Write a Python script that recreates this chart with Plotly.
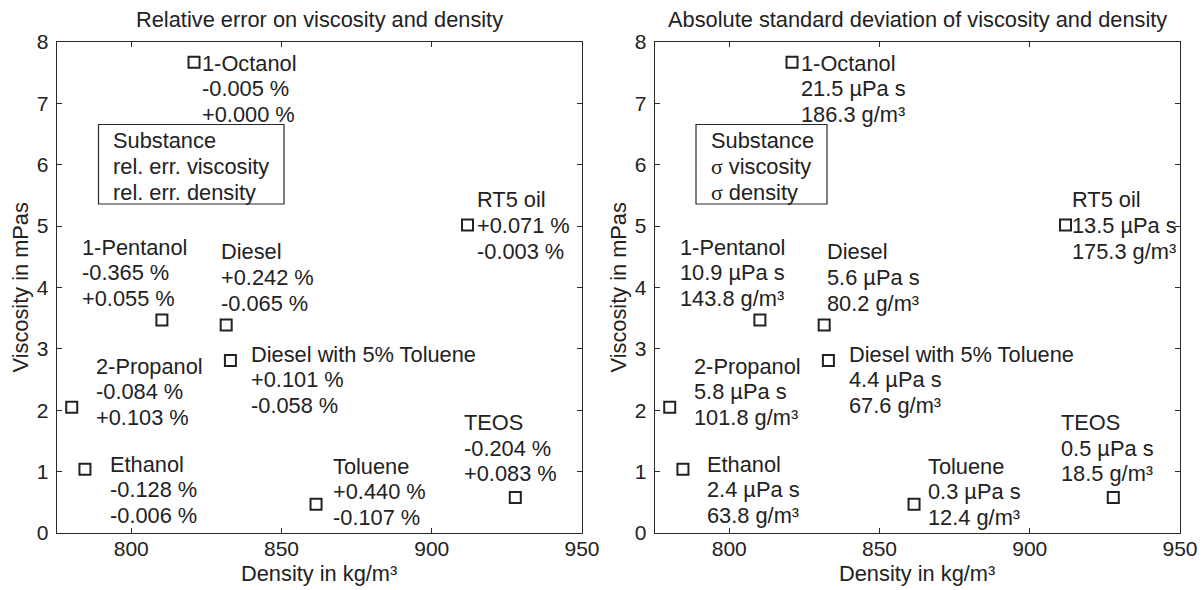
import plotly.graph_objects as go

# ---------------- data ----------------
substances = ["1-Octanol", "RT5 oil", "1-Pentanol", "Diesel", "Diesel with 5% Toluene",
              "2-Propanol", "Ethanol", "Toluene", "TEOS"]
density = [820.9, 911.9, 810.2, 831.6, 833.0, 780.2, 784.6, 861.5, 927.8]      # kg/m³
viscosity = [7.67, 5.02, 3.47, 3.39, 2.81, 2.05, 1.04, 0.47, 0.58]             # mPas
rel_err_visc = [-0.005, 0.071, -0.365, 0.242, 0.101, -0.084, -0.128, 0.440, -0.204]  # %
rel_err_dens = [0.000, -0.003, 0.055, -0.065, -0.058, 0.103, -0.006, -0.107, 0.083]  # %
sigma_visc = [21.5, 13.5, 10.9, 5.6, 4.4, 5.8, 2.4, 0.3, 0.5]                  # µPa s
sigma_dens = [186.3, 175.3, 143.8, 80.2, 67.6, 101.8, 63.8, 12.4, 18.5]        # g/m³

x_ticks = [800, 850, 900, 950]
y_ticks = [0, 1, 2, 3, 4, 5, 6, 7, 8]

titles = ["Relative error on viscosity and density",
          "Absolute standard deviation of viscosity and density"]
x_title = "Density in kg/m³"
y_title = "Viscosity in mPas"
sig = '<span style="font-family:Liberation Serif, Times New Roman, serif">σ</span>'
legend_lines = [["Substance", "rel. err. viscosity", "rel. err. density"],
                ["Substance", sig + " viscosity", sig + " density"]]

# ---------------- style / layout ----------------
W, H = 1204, 590
FONT = "Liberation Sans, Arial, Helvetica, sans-serif"
TXT = "#222222"
AX = "#2a2a2a"
FS = 21.8
LS = 25.7  # line spacing px

# label offsets (px) from marker centre: (dx to text left, dy down to first line centre)
offs = [
    [(8, 1), (9, -25), (-80, -73), (-5.5, -73), (21, -6.5), (24, -41), (25, -5), (16.5, -38), (-51, -75)],
    [(9, 1), (6.5, -25), (-80, -73), (2.5, -73), (20.5, -6.5), (24, -41), (24, -5), (13.5, -38), (-52, -75)],
]

xr = [775.3, 950]
yr = [0, 8]
x_dom_px = [(57, 582), (655, 1180)]
y_dom_px = (42, 533)  # top, bottom

fig = go.Figure()

for p in range(2):
    xa = "x" if p == 0 else "x2"
    ya = "y" if p == 0 else "y2"
    fig.add_trace(go.Scatter(
        x=density, y=viscosity, mode="markers", xaxis=xa, yaxis=ya,
        marker=dict(symbol="square-open", size=11, color=TXT, line=dict(width=2, color=TXT)),
        showlegend=False, hoverinfo="skip"))

annotations = []
shapes = []
for p in range(2):
    xa = "x" if p == 0 else "x2"
    ya = "y" if p == 0 else "y2"
    for i, name in enumerate(substances):
        if p == 0:
            lines = [name, f"{rel_err_visc[i]:+.3f} %", f"{rel_err_dens[i]:+.3f} %"]
        else:
            lines = [name, f"{sigma_visc[i]:.1f} µPa s", f"{sigma_dens[i]:.1f} g/m³"]
        dx, dy = offs[p][i]
        for j, t in enumerate(lines):
            annotations.append(dict(
                x=density[i], y=viscosity[i], xref=xa, yref=ya, text=t, showarrow=False,
                xanchor="left", yanchor="middle", xshift=dx, yshift=-(dy + j * LS),
                borderpad=0, borderwidth=0, font=dict(family=FONT, size=FS, color=TXT)))

    # legend-like explanation box
    px0 = x_dom_px[p][0]
    pw = x_dom_px[p][1] - x_dom_px[p][0]
    ph = y_dom_px[1] - y_dom_px[0]
    box_px = [(98.5, 284), (696, 827)][p]
    bx0 = xr[0] + (box_px[0] - px0) / pw * (xr[1] - xr[0])
    bx1 = xr[0] + (box_px[1] - px0) / pw * (xr[1] - xr[0])
    by0 = (y_dom_px[1] - 204) / ph * 8
    by1 = (y_dom_px[1] - 124.5) / ph * 8
    shapes.append(dict(type="rect", xref=xa, yref=ya, x0=bx0, x1=bx1, y0=by0, y1=by1,
                       line=dict(color=AX, width=1.2), fillcolor="rgba(0,0,0,0)", layer="above"))
    for j, t in enumerate(legend_lines[p]):
        annotations.append(dict(
            x=bx0, y=by1, xref=xa, yref=ya, text=t, showarrow=False,
            xanchor="left", yanchor="middle", xshift=14.5, yshift=-(15.5 + j * 26),
            borderpad=0, borderwidth=0, font=dict(family=FONT, size=FS, color=TXT)))

    # titles
    cx = (x_dom_px[p][0] + x_dom_px[p][1]) / 2
    annotations.append(dict(x=cx / W, y=1 - 19 / H, xref="paper", yref="paper", text=titles[p],
                            showarrow=False, xanchor="center", yanchor="middle",
                            font=dict(family=FONT, size=FS, color=TXT)))
    annotations.append(dict(x=(cx - 1) / W, y=1 - 573 / H, xref="paper", yref="paper", text=x_title,
                            showarrow=False, xanchor="center", yanchor="middle",
                            font=dict(family=FONT, size=FS, color=TXT)))
    annotations.append(dict(x=(x_dom_px[p][0] - 37) / W, y=1 - 287.5 / H, xref="paper", yref="paper",
                            text=y_title, textangle=-90, showarrow=False,
                            xanchor="center", yanchor="middle",
                            font=dict(family=FONT, size=FS, color=TXT)))

axis_common = dict(showline=True, linecolor=AX, linewidth=1.4, mirror="allticks",
                   ticks="inside", ticklen=5, tickwidth=1, tickcolor=AX,
                   showgrid=False, zeroline=False, automargin=False,
                   tickfont=dict(family=FONT, size=21, color=TXT))

layout = dict(
    width=W, height=H, margin=dict(l=0, r=0, t=0, b=0),
    paper_bgcolor="white", plot_bgcolor="white",
    annotations=annotations, shapes=shapes, showlegend=False,
)
for p in range(2):
    xk = "xaxis" if p == 0 else "xaxis2"
    yk = "yaxis" if p == 0 else "yaxis2"
    layout[xk] = dict(axis_common, range=xr, tickvals=x_ticks, ticklabelstandoff=-4,
                      domain=[x_dom_px[p][0] / W, x_dom_px[p][1] / W],
                      anchor="y" if p == 0 else "y2")
    layout[yk] = dict(axis_common, range=yr, tickvals=y_ticks, ticklabelstandoff=3,
                      domain=[1 - y_dom_px[1] / H, 1 - y_dom_px[0] / H],
                      anchor="x" if p == 0 else "x2")

fig.update_layout(**layout)
fig.write_html("out.html", config={"displayModeBar": False, "staticPlot": True},
               post_script="document.body.style.margin='0';document.body.style.overflow='hidden';")
